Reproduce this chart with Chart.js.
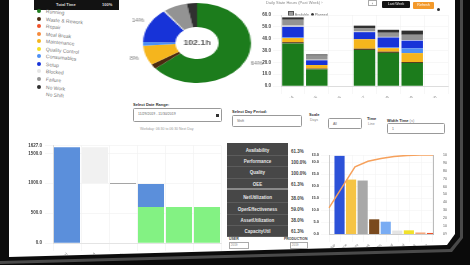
<!DOCTYPE html>
<html>
<head>
<meta charset="utf-8">
<script src="https://cdn.jsdelivr.net/npm/chart.js@4.4.0/dist/chart.umd.min.js"></script>
<style>
  html, body { margin: 0; padding: 0; }
  body { width: 470px; height: 265px; background: #0a0a0a; position: relative; overflow: hidden;
         font-family: 'Liberation Sans', Arial, sans-serif; }
  .layer { position: absolute; left: 0; top: 0; width: 470px; height: 265px; }
  #rim { background: #4a4a4a; clip-path: polygon(0 0, 463px 0, 463px 238px, 452px 252px, 0 264px); }
  #bezel { background: #0c0c0c; clip-path: polygon(0 0, 460px 0, 460px 237px, 450px 249px, 0 261px); }
  #screen { background: #fff; clip-path: polygon(9px 0, 455px 0, 455px 234px, 447px 245px, 9px 257px); }
  .abs { position: absolute; }
  .lg-dot { position: absolute; width: 4px; height: 4px; border-radius: 50%; }
  .lg-txt { position: absolute; font-size: 5px; color: #777; white-space: nowrap;
            transform: rotate(5deg); transform-origin: left center; }
  .lbl { position: absolute; font-size: 4px; color: #333; font-weight: bold; white-space: nowrap; }
  .inp { position: absolute; border: 1px solid #999; border-radius: 1.5px; background: #fff;
         font-size: 3.5px; color: #666; box-sizing: border-box; padding: 3px 0 0 4px; white-space: nowrap; }
  .kpi-k { position: absolute; left: 227px; width: 61px; height: 11.2px; line-height: 11.2px; text-align: center;
           font-size: 4.5px; font-weight: bold; color: #e6e6e6; border-bottom: 1px solid #5c5c5c; box-sizing: border-box; }
  .kpi-v { position: absolute; left: 291px; font-size: 4.5px; color: #444; font-weight: bold; }
</style>
</head>
<body>
<div id="rim" class="layer"></div>
<div id="bezel" class="layer"></div>
<div id="screen" class="layer">
  <!-- table header strip at the top left -->
  <div class="abs" style="left:34px;top:0;width:85px;height:10px;background:#121212;">
    <span class="abs" style="left:22px;top:2px;font-size:4px;color:#ddd;font-weight:bold;">Total Time</span>
    <span class="abs" style="left:68px;top:2px;font-size:4px;color:#ddd;font-weight:bold;">100%</span>
  </div>
  <div id="legend"></div>

  <div class="abs" style="left:135px;top:0;width:124px;height:86px;transform:scaleX(1.35);transform-origin:50% 50%;">
    <canvas id="donut"></canvas>
  </div>

  <!-- top right -->
  <div class="abs" style="left:266px;top:0;font-size:4px;color:#888;white-space:nowrap;">Daily State Hours (Past Week) &rsaquo;</div>
  <div class="abs" style="left:288px;top:11px;font-size:3.5px;color:#666;white-space:nowrap;">
    <span style="display:inline-block;width:4px;height:3px;background:#999;border:0.5px solid #555;"></span> Available
    &nbsp;<span style="display:inline-block;width:3px;height:3px;border-radius:50%;background:#333;"></span> Planned
  </div>
  <div class="abs" style="left:368px;top:0;width:9px;height:6px;border:1px solid #aaa;box-sizing:border-box;font-size:4px;text-align:center;line-height:5px;color:#555;">&lsaquo;</div>
  <div class="abs" style="left:382px;top:1px;width:28px;height:7px;background:#141414;border-radius:1px;font-size:3.5px;color:#eee;text-align:center;line-height:7px;">Last Week</div>
  <div class="abs" style="left:413px;top:2px;width:21px;height:7px;background:#f3992b;border-radius:1px;font-size:3.5px;color:#fff;text-align:center;line-height:7px;">Refresh</div>
  <div class="abs" style="left:437px;top:8px;width:3px;height:3px;border-radius:50%;background:#333;"></div>
  <div class="abs" style="left:262px;top:8px;width:190px;height:90px;"><canvas id="days"></canvas></div>

  <!-- controls row -->
  <div class="lbl" style="left:133px;top:102px;">Select Date Range:</div>
  <div class="inp" style="left:133px;top:108px;width:89px;height:14px;">11/29/2019 - 11/30/2019
    <span class="abs" style="left:82px;top:5px;width:3px;height:3px;background:#333;"></span></div>
  <div class="abs" style="left:140px;top:127px;font-size:3.5px;color:#999;white-space:nowrap;">Workday: 06:30 to 06:30 Next Day</div>
  <div class="lbl" style="left:232px;top:109px;">Select Day Period:</div>
  <div class="inp" style="left:232px;top:115px;width:70px;height:12px;">Shift</div>
  <div class="lbl" style="left:309px;top:112px;">Scale</div>
  <div class="abs" style="left:310px;top:118px;font-size:3.5px;color:#888;">Days</div>
  <div class="inp" style="left:328px;top:118px;width:34px;height:11px;">All</div>
  <div class="lbl" style="left:367px;top:116px;">Time</div>
  <div class="abs" style="left:368px;top:122px;font-size:3.5px;color:#888;">Line</div>
  <div class="lbl" style="left:387px;top:118px;">Width Time <span style="font-weight:normal;color:#888;">(s)</span></div>
  <div class="inp" style="left:387px;top:123px;width:58px;height:11px;">1</div>

  <!-- bottom left waterfall -->
  <div class="abs" style="left:20px;top:140px;width:205px;height:120px;"><canvas id="losses"></canvas></div>

  <!-- KPI table -->
  <div class="abs" style="left:227px;top:143px;width:61px;height:94px;background:#474747;"></div>
  <div id="kpi"></div>
  <div class="abs" style="left:229px;top:237px;font-size:3.5px;color:#444;font-weight:bold;">USER</div>
  <div class="abs" style="left:229px;top:242px;width:18px;height:5px;border:0.5px solid #aaa;font-size:3px;color:#888;">&nbsp;2019</div>
  <div class="abs" style="left:284px;top:237px;font-size:3.5px;color:#444;font-weight:bold;">PRODUCTION</div>
  <div class="abs" style="left:290px;top:242px;width:16px;height:5px;border:0.5px solid #aaa;font-size:3px;color:#888;">&nbsp;2019</div>

  <!-- bottom right pareto -->
  <div class="abs" style="left:312px;top:148px;width:141px;height:100px;"><canvas id="pareto"></canvas></div>
</div>

<script>
// status categories shared by the donut, the legend and the bars
const statusLabels = ['Running', 'Waste & Rework', 'Repair', 'Meal Break', 'Maintenance', 'Quality Control',
                      'Consumables', 'Setup', 'Blocked', 'Failure', 'No Work', 'No Shift'];
const statusColors = ['#1c7c1c', '#4b2a10', '#f0522a', '#f58a3c', '#f5b51d', '#f2df22',
                      '#4d8ff4', '#1733d8', '#e4e4e4', '#939393', '#303030', '#ffffff'];
const statusHours = [65.3, 2.0, 0, 0, 8.2, 0, 1.5, 14.3, 0.5, 7.2, 3.1, 0];
const donutCenter = '102.1h';

// daily stacked hours
const dayLabels = ['11/24', '11/25', '11/26', '11/27', '11/28', '11/29', '11/30'];
const dayRunning = [36, 14, null, 30.5, 28, 19.5, null];
const dayWaste = [1, 0.7, null, 1, 1, 0.8, null];
const dayMaint = [3.5, 3, null, 8, 3, 7.5, null];
const dayConsum = [0.5, 0, null, 0, 0.5, 4, null];
const daySetup = [9, 4, null, 6, 8.5, 6.5, null];
const dayBlocked = [1, 0.5, null, 0.5, 0.5, 0.5, null];
const dayFailure = [5, 3.5, null, 3, 3.5, 4.5, null];
const dayNoWork = [2, 1, null, 2, 2.5, 3.5, null];
const dayTicks = [0, 10, 20, 30, 40, 50, 60];

// OEE waterfall
const lossLabels = ['Total', 'Not Scheduled', 'No Work', 'Downtime', 'Performance', 'Quality'];
const lossBars = [[0, 1600], [1000, 1600], [985, 1000], [604, 985], null, null];
const lossColors = ['#5b8fdb', '#f1f1f1', '#8a8a8a', '#5b8fdb', '#ffffff', '#ffffff'];
const goodBars = [null, null, null, [0, 604], [0, 604], [0, 604]];
const lossTicks = [0, 500, 1000, 1500, 1627];

// KPI table
const kpiNames = ['Availability', 'Performance', 'Quality', 'OEE', 'NetUtilization', 'OperEffectiveness', 'AssetUtilization', 'CapacityUtil'];
const kpiValues = ['61.3%', '100.0%', '100.0%', '61.3%', '38.0%', '59.0%', '38.0%', '61.3%'];

// pareto of losses
const paretoLabels = ['Setup', 'Maintenance', 'Failure', 'Waste & Rework', 'Consumables', 'Blocked', 'Quality Control', 'Meal Break', 'Repair'];
const paretoHours = [32.5, 22.6, 22.2, 6, 5, 1.3, 1.4, 0.5, 0.3];
const paretoColors = ['#2c52d8', '#f6c445', '#a8a8a8', '#7a4a1e', '#79acf3', '#e4e4e4', '#f1e12a', '#f5a77c', '#f0522a'];
const paretoCum = [33, 59, 85, 92, 95.5, 98, 99.5, 100, 100];
const paretoTicks = [0, 5, 10, 15, 20, 25, 30, 33];

Chart.defaults.animation = false;
Chart.defaults.font.family = "'Liberation Sans', Arial, sans-serif";
Chart.defaults.font.size = 4.5;
Chart.defaults.color = '#555';
Chart.defaults.plugins.legend.display = false;
Chart.defaults.plugins.tooltip.enabled = false;

// legend list on the left
const legendBox = document.getElementById('legend');
statusLabels.forEach((name, i) => {
    const y = 9 + i * 7.55;
    const dot = document.createElement('div');
    dot.className = 'lg-dot';
    dot.style.left = '37px';
    dot.style.top = y + 'px';
    dot.style.background = statusColors[i];
    legendBox.appendChild(dot);
    const txt = document.createElement('div');
    txt.className = 'lg-txt';
    txt.style.left = '46px';
    txt.style.top = (y - 1) + 'px';
    txt.textContent = name;
    legendBox.appendChild(txt);
});

// KPI rows
const kpiBox = document.getElementById('kpi');
kpiNames.forEach((name, i) => {
    const top = 145 + i * 11.2 + (i >= 4 ? 2.5 : 0);
    const k = document.createElement('div');
    k.className = 'kpi-k';
    k.style.top = top + 'px';
    if (i === 3) k.style.borderBottom = '2px solid #8a8a8a';
    k.textContent = name;
    kpiBox.appendChild(k);
    const v = document.createElement('div');
    v.className = 'kpi-v';
    v.style.top = (top + 3.5) + 'px';
    v.textContent = kpiValues[i];
    kpiBox.appendChild(v);
});

// percent labels and centre text for the donut
const donutText = {
    id: 'donutText',
    afterDatasetsDraw(chart) {
        const ctx = chart.ctx;
        const arcs = chart.getDatasetMeta(0).data;
        const total = statusHours.reduce((a, b) => a + b, 0);
        ctx.save();
        ctx.textAlign = 'center';
        ctx.textBaseline = 'middle';
        ctx.font = "4.5px 'Liberation Sans', Arial";
        ctx.fillStyle = '#777';
        arcs.forEach((arc, i) => {
            const pct = statusHours[i] / total * 100;
            if (pct < 7.5) return;
            const mid = (arc.startAngle + arc.endAngle) / 2;
            const r = arc.outerRadius + 9;
            ctx.fillText(Math.round(pct) + '%', arc.x + Math.cos(mid) * r, arc.y + Math.sin(mid) * r);
        });
        ctx.font = "bold 6.5px 'Liberation Sans', Arial";
        ctx.fillStyle = '#555';
        ctx.fillText(donutCenter, arcs[0].x, arcs[0].y);
        ctx.restore();
    }
};

new Chart(document.getElementById('donut'), {
    type: 'doughnut',
    data: {
        labels: statusLabels,
        datasets: [{ data: statusHours, backgroundColor: statusColors, borderWidth: 0 }]
    },
    options: {
        responsive: true,
        maintainAspectRatio: false,
        cutout: '40%',
        layout: { padding: { top: 3, bottom: 3 } }
    },
    plugins: [donutText]
});

// daily stacked bars
const daySets = [
    [dayRunning, 0], [dayWaste, 1], [dayMaint, 4], [dayConsum, 6],
    [daySetup, 7], [dayBlocked, 8], [dayFailure, 9], [dayNoWork, 10]
];
new Chart(document.getElementById('days'), {
    type: 'bar',
    data: {
        labels: dayLabels,
        datasets: daySets.map(([data, c]) => ({
            label: statusLabels[c], data: data, backgroundColor: statusColors[c],
            barPercentage: 0.9, categoryPercentage: 1
        }))
    },
    options: {
        responsive: true,
        maintainAspectRatio: false,
        layout: { padding: { top: 7, right: 4 } },
        scales: {
            x: {
                stacked: true,
                grid: { color: '#efefef', lineWidth: 0.5 },
                border: { color: '#ddd' },
                ticks: { font: { size: 4 }, color: '#777', minRotation: 45, maxRotation: 45, autoSkip: false, padding: 1 },
                afterFit(s) { s.height = 12; s.paddingLeft = 0; s.paddingRight = 0; }
            },
            y: {
                stacked: true, min: 0, max: 60,
                grid: { color: '#efefef', lineWidth: 0.5 },
                border: { color: '#ddd' },
                afterBuildTicks(s) { s.ticks = dayTicks.map(v => ({ value: v })); },
                ticks: { font: { size: 4.5, weight: 'bold' }, color: '#444', padding: 2, callback: v => v.toFixed(1) },
                afterFit(s) { s.width = 19; }
            }
        }
    }
});

// OEE waterfall
new Chart(document.getElementById('losses'), {
    type: 'bar',
    data: {
        labels: lossLabels,
        datasets: [
            { data: lossBars, backgroundColor: lossColors, barPercentage: 0.93, categoryPercentage: 1 },
            { data: goodBars, backgroundColor: '#83f283', barPercentage: 0.93, categoryPercentage: 1 }
        ]
    },
    options: {
        responsive: true,
        maintainAspectRatio: false,
        layout: { padding: { top: 5, right: 4 } },
        scales: {
            x: {
                stacked: true,
                grid: { color: '#f0f0f0', lineWidth: 0.6 },
                border: { color: '#e4e4e4' },
                ticks: { font: { size: 4 }, color: '#777', minRotation: 45, maxRotation: 45, autoSkip: false, padding: 1 },
                afterFit(s) { s.height = 17; s.paddingLeft = 0; s.paddingRight = 0; }
            },
            y: {
                min: 0, max: 1627,
                grid: { color: '#f0f0f0', lineWidth: 0.6 },
                border: { color: '#ddd' },
                afterBuildTicks(s) { s.ticks = lossTicks.map(v => ({ value: v })); },
                ticks: { font: { size: 4.5, weight: 'bold' }, color: '#444', padding: 3, callback: v => v.toFixed(1) },
                afterFit(s) { s.width = 33; }
            }
        }
    }
});

// pareto
new Chart(document.getElementById('pareto'), {
    type: 'bar',
    data: {
        labels: paretoLabels,
        datasets: [
            { type: 'line', data: paretoCum, xAxisID: 'x2', yAxisID: 'y2', borderColor: '#f6a15c',
              borderWidth: 1.5, pointRadius: 0, order: 0 },
            { type: 'bar', data: paretoHours, backgroundColor: paretoColors, xAxisID: 'x', yAxisID: 'y',
              barThickness: 9.5, order: 1 }
        ]
    },
    options: {
        responsive: true,
        maintainAspectRatio: false,
        layout: { padding: { top: 7, right: 6 } },
        scales: {
            x: {
                offset: true,
                grid: { color: '#f0f0f0', lineWidth: 0.5 },
                border: { color: '#ccc' },
                ticks: { font: { size: 3.5 }, color: '#777', minRotation: 45, maxRotation: 45, autoSkip: false, padding: 1 },
                afterFit(s) { s.height = 14; s.paddingLeft = 0; s.paddingRight = 0; }
            },
            x2: { type: 'category', offset: false, display: false },
            y: {
                position: 'left', min: 0, max: 33,
                grid: { color: '#f0f0f0', lineWidth: 0.5 },
                border: { color: '#ccc' },
                afterBuildTicks(s) { s.ticks = paretoTicks.map(v => ({ value: v })); },
                ticks: { font: { size: 4, weight: 'bold' }, color: '#444', padding: 2, callback: v => v.toFixed(1) },
                afterFit(s) { s.width = 17; }
            },
            y2: {
                position: 'right', min: 0, max: 100,
                grid: { display: false },
                border: { color: '#bbb' },
                ticks: { font: { size: 3.5 }, color: '#555', stepSize: 10, padding: 2, callback: v => v + '%' },
                afterFit(s) { s.width = 14; }
            }
        }
    }
});
</script>
</body>
</html>
